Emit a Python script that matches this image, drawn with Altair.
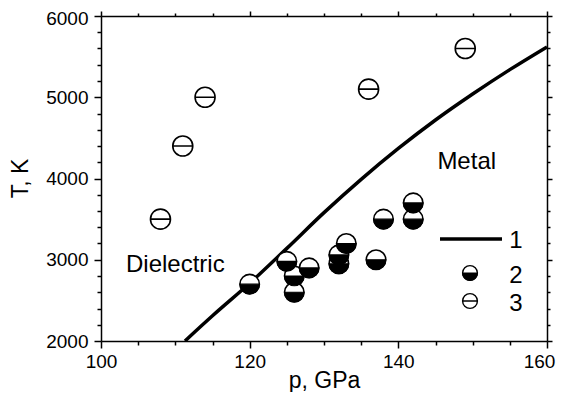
import altair as alt
import pandas as pd

# ---- data ----
# curve 1 (boundary)
curve_p = [111.3, 115, 120, 125, 130, 135, 140, 145, 150, 155, 160]
curve_T = [2000, 2310, 2710, 3140, 3580, 3990, 4370, 4720, 5040, 5340, 5620]

# series 2 (half-filled circles)
s2_p = [120, 125, 126, 126, 128, 132, 132, 133, 137, 138, 142, 142]
s2_T = [2700, 2980, 2800, 2600, 2900, 2950, 3060, 3200, 3000, 3500, 3500, 3700]

# series 3 (circles with a bar)
s3_p = [108, 111, 114, 136, 149]
s3_T = [3500, 4400, 5000, 5100, 5600]

region_labels = ["Metal", "Dielectric"]
region_p = [149.2, 110]
region_T = [4200, 2940]

legend_labels = ["1", "2", "3"]

x_ticks = list(range(100, 161, 5))
y_ticks = list(range(2000, 6001, 200))

FONT = "Liberation Sans"
CIRCLE_BAR = "M-1,0A1,1,0,1,1,1,0A1,1,0,1,1,-1,0ZM-1,0L1,0"
CIRCLE = "M-1,0A1,1,0,1,1,1,0A1,1,0,1,1,-1,0Z"
HALF = "M-1,0A1,1,0,0,0,1,0Z"

curve_df = pd.DataFrame({"p": curve_p, "T": curve_T})
s2_df = pd.DataFrame({"p": s2_p, "T": s2_T})
s3_df = pd.DataFrame({"p": s3_p, "T": s3_T})
reg_df = pd.DataFrame({"label": region_labels, "p": region_p, "T": region_T})

xscale = alt.Scale(domain=[100, 160], nice=False, zero=False)
yscale = alt.Scale(domain=[2000, 6000], nice=False, zero=False)

common_axis = dict(
    domainColor="black", domainWidth=1.5, tickColor="black", tickWidth=1.5,
    labelFont=FONT, labelFontSize=19, labelColor="black",
    titleFont=FONT, titleFontSize=23, titleFontWeight="normal", titleColor="black",
    grid=False,
)

x_bottom = alt.Axis(
    orient="bottom", values=x_ticks, format="d",
    labelExpr="datum.value % 20 === 0 ? datum.label : ''",
    tickSize={"condition": {"test": "datum.value % 20 === 0", "value": 7}, "value": 4},
    labelOffset={"condition": {"test": "datum.value === 160", "value": -8}, "value": 0},
    labelPadding=4, title="p, GPa", titleX=223, titleY=46,
    titleBaseline="alphabetic", labelFlush=False, labelOverlap=False,
    **common_axis,
)
y_left = alt.Axis(
    orient="left", values=y_ticks, format="d",
    labelExpr="datum.value % 1000 === 0 ? datum.label : ''",
    tickSize={"condition": {"test": "datum.value % 1000 === 0", "value": 7}, "value": 4},
    labelOffset={"condition": {"test": "datum.value === 6000", "value": 2}, "value": 0},
    labelPadding=6, title="T, K", titleX=-74, titleY=162,
    titleBaseline="alphabetic", labelFlush=False, labelOverlap=False,
    **common_axis,
)
x_top = alt.Axis(
    orient="top", values=x_ticks, labels=False, title=None,
    tickSize={"condition": {"test": "datum.value % 20 === 0", "value": 5}, "value": 3},
    **common_axis,
)
y_right = alt.Axis(
    orient="right", values=y_ticks, labels=False, title=None,
    tickSize={"condition": {"test": "datum.value % 1000 === 0", "value": 5}, "value": 3},
    **common_axis,
)

curve = alt.Chart(curve_df).mark_line(
    color="black", strokeWidth=3.5, clip=True, interpolate="monotone"
).encode(
    x=alt.X("p:Q", scale=xscale, axis=x_bottom),
    y=alt.Y("T:Q", scale=yscale, axis=y_left),
)

frame = alt.Chart(curve_df).mark_line(opacity=0).encode(
    x=alt.X("p:Q", scale=xscale, axis=x_top),
    y=alt.Y("T:Q", scale=yscale, axis=y_right),
)

s3 = alt.Chart(s3_df).mark_point(
    shape=CIRCLE_BAR, size=400, fill="white", stroke="black",
    strokeWidth=1.6, fillOpacity=1, opacity=1
).encode(
    x=alt.X("p:Q", scale=xscale, axis=None),
    y=alt.Y("T:Q", scale=yscale, axis=None),
)

s2_out = alt.Chart(s2_df).mark_point(
    shape=CIRCLE, size=380, fill="white", stroke="black",
    strokeWidth=1.6, fillOpacity=1, opacity=1
).encode(
    x=alt.X("p:Q", scale=xscale, axis=None),
    y=alt.Y("T:Q", scale=yscale, axis=None),
)
s2_half = alt.Chart(s2_df).mark_point(
    shape=HALF, size=380, fill="black", stroke="black",
    strokeWidth=1.2, fillOpacity=1, opacity=1
).encode(
    x=alt.X("p:Q", scale=xscale, axis=None),
    y=alt.Y("T:Q", scale=yscale, axis=None),
)

regions = alt.Chart(reg_df).mark_text(
    font=FONT, fontSize=24, color="black", align="center", baseline="middle"
).encode(
    x=alt.X("p:Q", scale=xscale, axis=None),
    y=alt.Y("T:Q", scale=yscale, axis=None),
    text="label:N",
)

# ---- manual legend (pixel positions inside the plot area) ----
one = pd.DataFrame({"label": [legend_labels[0]]})
two = pd.DataFrame({"label": [legend_labels[1]]})
three = pd.DataFrame({"label": [legend_labels[2]]})

leg_line = alt.Chart(one).mark_rule(color="black", strokeWidth=3.5).encode(
    x=alt.value(339), x2=alt.value(401), y=alt.value(223)
)
leg_s2_out = alt.Chart(two).mark_point(
    shape=CIRCLE, size=220, fill="white", stroke="black", strokeWidth=1.4,
    fillOpacity=1, opacity=1
).encode(x=alt.value(369), y=alt.value(257))
leg_s2_half = alt.Chart(two).mark_point(
    shape=HALF, size=220, fill="black", stroke="black", strokeWidth=1,
    fillOpacity=1, opacity=1
).encode(x=alt.value(369), y=alt.value(257))
leg_s3 = alt.Chart(three).mark_point(
    shape=CIRCLE_BAR, size=220, fill="white", stroke="black", strokeWidth=1.4,
    fillOpacity=1, opacity=1
).encode(x=alt.value(369), y=alt.value(285))

def leg_text(df, y):
    return alt.Chart(df).mark_text(
        font=FONT, fontSize=24, color="black", align="center", baseline="middle"
    ).encode(x=alt.value(415), y=alt.value(y), text="label:N")

chart = alt.layer(
    curve, frame, s3, s2_out, s2_half, regions,
    leg_line, leg_s2_out, leg_s2_half, leg_s3,
    leg_text(one, 225), leg_text(two, 260), leg_text(three, 288),
).resolve_axis(
    x="independent", y="independent"
).properties(
    width=446, height=325,
    autosize=alt.AutoSizeParams(type="none"),
    padding={"left": 93, "top": 8, "right": 10, "bottom": 51},
).configure_view(
    stroke="black", strokeWidth=1.5
).configure(background="white")

chart.save("out.html", embed_options={"renderer": "svg", "actions": False})
